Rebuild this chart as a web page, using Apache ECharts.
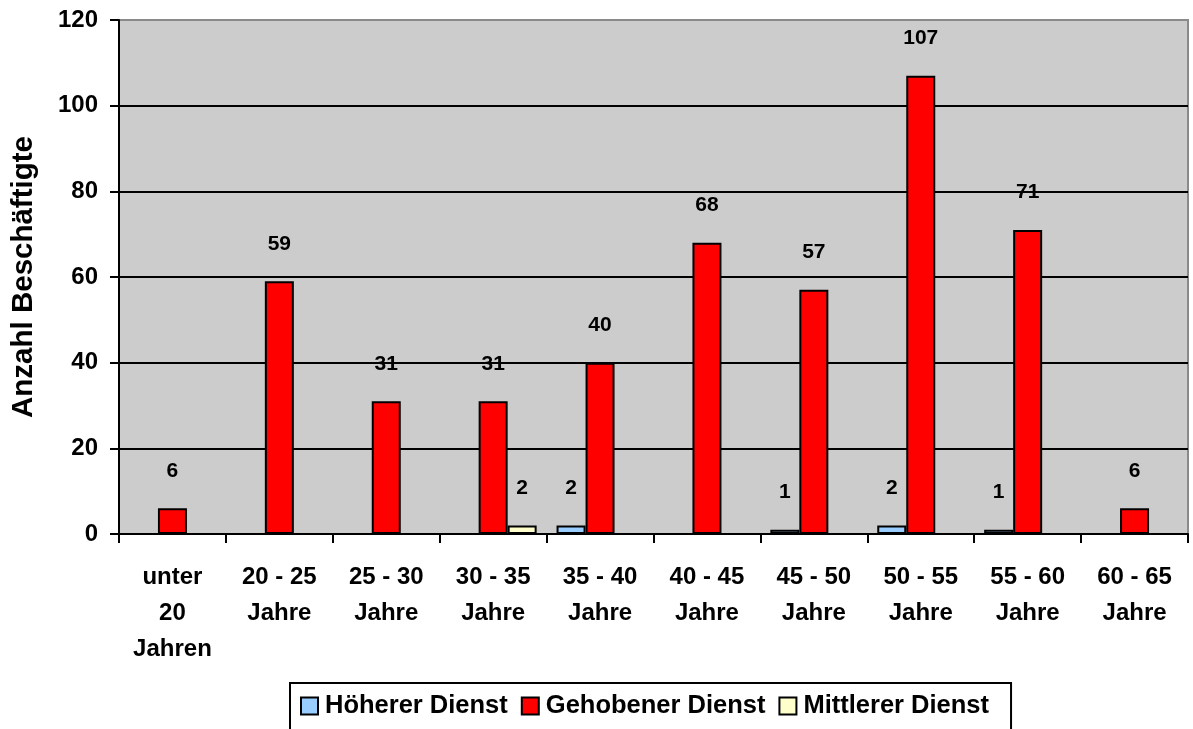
<!DOCTYPE html>
<html><head><meta charset="utf-8">
<script src="https://cdn.jsdelivr.net/npm/echarts@6/dist/echarts.min.js"></script>
<style>html,body{margin:0;padding:0;background:#fff}#c{width:1193px;height:729px}</style>
</head><body><div id="c"></div>
<script>
const categories = ['unter\n20\nJahren','20 - 25\nJahre','25 - 30\nJahre','30 - 35\nJahre','35 - 40\nJahre','40 - 45\nJahre','45 - 50\nJahre','50 - 55\nJahre','55 - 60\nJahre','60 - 65\nJahre'];
const seriesNames = ['Höherer Dienst','Gehobener Dienst','Mittlerer Dienst'];
const hoehererDienst = [0,0,0,0,2,0,1,2,1,0];
const gehobenerDienst = [6,59,31,31,40,68,57,107,71,6];
const mittlererDienst = [0,0,0,2,0,0,0,0,0,0];
const yTicks = [0,20,40,60,80,100,120];

const colors = ['#99CCFF','#FF0000','#FFFFCC'];
const font = 'Liberation Sans, Arial, sans-serif';
const allData = [hoehererDienst, gehobenerDienst, mittlererDienst];

const chart = echarts.init(document.getElementById('c'));
chart.setOption({
  animation:false,
  textStyle:{fontFamily:font},
  grid:{left:119,right:5,top:20,bottom:195,show:true,backgroundColor:'#CCCCCC',borderColor:'#8a8a8a',borderWidth:2},
  legend:{
    left:290, top:683, orient:'horizontal',
    data:seriesNames, icon:'rect',
    borderColor:'#000', borderWidth:2, padding:[10,22,14,10],
    itemWidth:17, itemHeight:17, itemGap:13,
    textStyle:{fontFamily:font,fontWeight:'bold',fontSize:25.5,color:'#000',padding:[0,0,0,2]}
  },
  xAxis:{
    type:'category', data:categories,
    axisLine:{lineStyle:{color:'#000',width:2}},
    axisTick:{show:true,length:9,lineStyle:{color:'#000',width:2}},
    axisLabel:{interval:0,fontFamily:font,fontWeight:'bold',fontSize:24,color:'#000',lineHeight:36,margin:25}
  },
  yAxis:{
    type:'value', min:yTicks[0], max:yTicks[yTicks.length-1], interval:20,
    name:'Anzahl Beschäftigte', nameLocation:'middle', nameGap:80,
    nameTextStyle:{fontFamily:font,fontWeight:'bold',fontSize:29.5,color:'#000'},
    axisLine:{show:true,lineStyle:{color:'#000',width:2}},
    axisTick:{show:true,length:9,lineStyle:{color:'#000',width:2}},
    axisLabel:{fontFamily:font,fontWeight:'bold',fontSize:24,color:'#000',margin:21},
    splitLine:{show:true,lineStyle:{color:['#000','#000','#000','#000','#000','#000','#8a8a8a'],width:2}}
  },
  series: seriesNames.map((n,i)=>({
    name:n, type:'bar', barWidth:29, barGap:'0%',
    data: allData[i].map(v => v === 0 ? '-' : v),
    itemStyle:{color:colors[i],borderColor:'#000',borderWidth:2},
    label:{show:true,position:'top',distance:27,fontFamily:font,fontWeight:'bold',fontSize:21,color:'#000'}
  }))
});
</script></body></html>
